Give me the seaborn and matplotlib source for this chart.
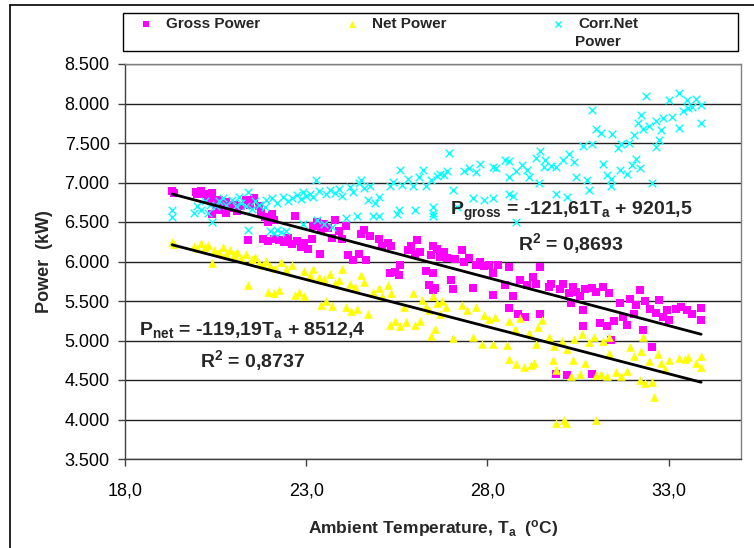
import pandas as pd
import seaborn as sns
import matplotlib.pyplot as plt
import numpy as np
from matplotlib.ticker import FuncFormatter, MultipleLocator
from matplotlib.lines import Line2D
from matplotlib.patches import Rectangle


sns.set_theme(style="white")
plt.rcParams['font.family'] = ['Liberation Sans', 'DejaVu Sans']
plt.rcParams['mathtext.fontset'] = 'custom'
plt.rcParams['mathtext.rm'] = 'Liberation Sans'
plt.rcParams['mathtext.bf'] = 'Liberation Sans:bold'
plt.rcParams['mathtext.it'] = 'Liberation Sans:italic'

x_ticks = [18, 23, 28, 33]

# Gross power
T_gross = [19.3, 19.35, 19.97, 20.0, 20.1, 20.2, 20.3, 20.4, 20.3, 20.45, 20.5, 20.6, 20.7, 20.8, 20.9,
           21.0, 21.1, 21.2, 20.4, 20.6, 20.8, 21.35, 21.45, 21.55, 21.7, 21.4, 21.75, 21.85, 21.95, 22.05,
           22.1, 21.8, 21.95, 22.1, 22.25, 22.4, 22.5, 22.6, 22.7, 22.75, 22.85, 22.95, 23.05, 23.15, 23.2,
           23.3, 23.4, 23.37, 23.5, 23.6, 23.7, 23.8, 23.9, 24.0, 24.1, 24.15, 24.3, 24.45, 24.5, 24.6,
           24.65, 24.75, 25.0, 25.1, 25.25, 25.35, 25.3, 25.45, 25.55, 25.6, 25.8, 25.9, 26.0, 26.05, 26.15,
           26.3, 26.4, 26.5, 26.5, 26.45, 26.6, 26.7, 26.5, 26.55, 26.8, 26.9, 27.0, 27.05, 27.1, 27.3,
           27.35, 27.5, 27.6, 27.7, 27.8, 27.9, 28.05, 28.15, 28.15, 28.3, 28.5, 28.6, 28.6, 28.7, 28.85,
           28.9, 29.05, 29.1, 29.25, 29.35, 29.45, 29.45, 29.7, 29.75, 29.9, 30.0, 30.1, 30.2, 30.25, 30.3,
           30.35, 30.45, 30.55, 30.65, 30.65, 30.7, 30.9, 30.9, 31.0, 31.1, 31.2, 31.3, 31.35, 31.4, 31.5,
           31.65, 31.75, 31.85, 31.95, 32.05, 32.1, 32.2, 32.3, 32.35, 32.5, 32.55, 32.65, 32.75, 32.85, 32.95,
           33.0, 33.2, 33.35, 33.5, 33.65, 33.9, 33.9]
P_gross = [6890, 6870, 6880, 6850, 6890, 6860, 6840, 6870, 6800, 6760, 6720, 6780, 6700, 6750, 6680,
           6720, 6640, 6700, 6600, 6650, 6620, 6780, 6720, 6800, 6700, 6270, 6620, 6560, 6500, 6600,
           6520, 6280, 6260, 6290, 6270, 6250, 6300, 6220, 6570, 6260, 6180, 6240, 6160, 6290, 6450,
           6500, 6400, 6100, 6480, 6420, 6300, 6520, 6380, 6290, 6450, 6080, 6020, 6100, 6350, 6400,
           6020, 6320, 6280, 6200, 6240, 6190, 5850, 5870, 5830, 5960, 6150, 6190, 6100, 6270, 6120,
           5880, 5700, 5640, 6190, 6080, 6160, 6060, 5850, 5660, 6120, 6040, 5760, 5650, 6030, 6140,
           5990, 6040, 5660, 5950, 5990, 5940, 5950, 5850, 5580, 5950, 5700, 5930, 5410, 5560, 5340,
           5760, 5300, 5700, 5800, 5720, 5930, 5340, 5680, 5720, 4580, 5650, 5720, 4560, 5600, 5470,
           5680, 5620, 5560, 5390, 5180, 5650, 5660, 4580, 5620, 5220, 5680, 5180, 5600, 5010, 5250,
           5470, 5300, 5200, 5520, 5340, 5450, 5640, 5130, 5500, 5400, 4920, 5350, 5510, 5300, 5380,
           5260, 5400, 5420, 5390, 5340, 5410, 5260]

# Net power
T_net = [19.3, 19.35, 19.9, 20.0, 20.1, 20.2, 20.3, 20.4, 20.45, 20.6, 20.7, 20.8, 20.9, 21.0, 21.1,
         21.2, 21.4, 21.35, 21.5, 21.6, 21.7, 21.8, 21.9, 22.0, 21.95, 22.1, 22.25, 22.15, 22.3, 22.45,
         22.6, 22.7, 22.8, 22.95, 22.95, 23.1, 23.2, 23.35, 23.4, 23.55, 23.7, 23.5, 23.65, 23.8, 23.9,
         24.0, 24.1, 24.25, 24.4, 24.5, 24.2, 24.35, 24.6, 24.7, 24.85, 25.0, 25.1, 25.25, 25.35, 25.3,
         25.45, 25.6, 25.7, 25.75, 25.95, 26.0, 26.15, 26.2, 26.3, 26.45, 26.5, 26.6, 26.4, 26.55, 26.7,
         26.75, 26.85, 27.05, 27.3, 27.45, 27.6, 27.7, 27.85, 27.9, 28.05, 28.2, 28.15, 28.55, 28.6, 28.6,
         28.75, 28.8, 28.9, 29.0, 29.15, 29.2, 29.3, 29.35, 29.4, 29.5, 29.7, 29.8, 29.85, 29.9, 29.9,
         30.05, 30.12, 30.17, 30.2, 30.3, 30.35, 30.4, 30.55, 30.6, 30.7, 30.8, 30.95, 31.0, 31.0, 31.15,
         31.2, 31.35, 31.35, 31.3, 31.55, 31.7, 31.85, 31.95, 32.05, 32.2, 32.25, 32.3, 32.35, 32.45, 32.55,
         32.6, 32.7, 32.8, 32.9, 33.0, 33.3, 33.45, 33.55, 33.75, 33.9, 33.9]
P_net = [6250, 6220, 6200, 6170, 6230, 6180, 6210, 5980, 6150, 6120, 6180, 6100, 6140, 6080, 6120,
         6050, 5700, 6100, 6030, 6060, 5980, 5950, 6010, 5940, 5620, 5600, 5640, 5920, 5990, 5900,
         5950, 5580, 5620, 5560, 5880, 5830, 5900, 5810, 5450, 5500, 5440, 5780, 5840, 5730, 5760,
         5910, 5430, 5370, 5400, 5830, 5710, 5680, 5740, 5340, 5620, 5660, 5560, 5700, 5600, 5200,
         5250, 5180, 5430, 5240, 5600, 5190, 5250, 5510, 5440, 5060, 5560, 5480, 5380, 5150, 5340,
         5500, 5430, 5030, 5450, 5380, 5050, 5430, 4960, 5320, 5270, 5300, 4960, 4940, 5250, 4770,
         5140, 4700, 5280, 4670, 5100, 4690, 4710, 4960, 5170, 5260, 5040, 4750, 4930, 4630, 3950,
         5000, 3990, 3950, 4890, 4550, 4750, 5020, 4580, 5080, 4710, 4980, 5050, 4560, 3990, 4580,
         5000, 5040, 4840, 4550, 4600, 4550, 4620, 4920, 4800, 4500, 4870, 5050, 4460, 4740, 4480,
         4290, 4830, 4720, 4640, 4750, 4780, 4760, 4790, 4710, 4800, 4660]

# Corrected net power
T_corr = [19.3, 19.3, 19.9, 20.0, 20.1, 20.2, 20.3, 20.4, 20.35, 20.5, 20.6, 20.7, 20.8, 20.95, 21.05,
          21.15, 21.2, 21.35, 21.4, 21.4, 21.5, 21.6, 21.7, 21.85, 21.9, 22.0, 22.1, 22.2, 22.3, 22.45,
          22.05, 22.2, 22.35, 22.5, 22.6, 22.75, 22.85, 22.9, 22.9, 23.0, 23.1, 23.2, 23.28, 23.3, 23.35,
          23.5, 23.55, 23.65, 23.7, 23.8, 23.9, 24.0, 24.1, 24.2, 24.3, 24.4, 24.45, 24.5, 24.6, 24.7,
          24.75, 24.85, 24.9, 25.0, 25.0, 25.3, 25.4, 25.5, 25.55, 25.6, 25.65, 25.8, 25.95, 26.0, 26.1,
          26.22, 26.3, 26.45, 26.5, 26.5, 26.5, 26.6, 26.7, 26.8, 26.9, 26.95, 27.05, 27.15, 27.35, 27.5,
          27.6, 27.7, 27.8, 27.9, 28.15, 28.15, 28.25, 28.5, 28.6, 28.6, 28.6, 28.7, 28.8, 28.8, 28.95,
          29.1, 29.15, 29.35, 29.45, 29.43, 29.55, 29.6, 29.75, 29.9, 29.9, 30.1, 30.2, 30.25, 30.4, 30.45,
          30.65, 30.75, 30.8, 30.9, 30.9, 31.0, 31.15, 31.2, 31.3, 31.4, 31.4, 31.45, 31.6, 31.65, 31.7,
          31.85, 31.9, 32.0, 32.05, 32.1, 32.15, 32.2, 32.25, 32.3, 32.37, 32.45, 32.55, 32.65, 32.65, 32.75,
          32.8, 32.85, 33.0, 33.1, 33.3, 33.3, 33.4, 33.5, 33.55, 33.65, 33.75, 33.9, 33.9]
P_corr = [6650, 6560, 6620, 6700, 6650, 6770, 6610, 6500, 6720, 6700, 6760, 6810, 6720, 6780, 6700,
          6820, 6740, 6700, 6880, 6400, 6660, 6760, 6720, 6690, 6780, 6380, 6360, 6400, 6370, 6380,
          6800, 6740, 6820, 6760, 6800, 6840, 6790, 6880, 6480, 6830, 6860, 6820, 7030, 6520, 6890,
          6480, 6850, 6900, 6440, 6870, 6920, 6830, 6550, 6940, 6880, 6570, 6990, 7030, 6930, 6780,
          6960, 6570, 6740, 6570, 6820, 6960, 7010, 6600, 6650, 7160, 6970, 7040, 6960, 6650, 7070,
          7160, 6960, 7030, 6610, 6690, 6570, 7080, 7110, 7090, 7150, 7370, 6900, 6690, 7140, 7180,
          6800, 7130, 7240, 6780, 7200, 6800, 7180, 7290, 7270, 7070, 6860, 6830, 7140, 6500, 7220,
          7160, 7070, 7310, 7400, 6990, 7200, 7290, 7210, 7200, 6860, 7290, 6820, 7360, 7260, 7070,
          7460, 7030, 6900, 7490, 7920, 7680, 7630, 7240, 7100, 7040, 6950, 7620, 7440, 7160, 7490,
          7110, 7500, 7220, 7600, 7300, 7750, 7180, 7850, 7680, 8090, 7710, 6990, 7780, 7450, 7540,
          7670, 7820, 8040, 7830, 8130, 7690, 7900, 8040, 7940, 7960, 8060, 7980, 7750]

# linear fits as printed on the chart
fit_gross = (-121.61, 9201.5)
fit_net = (-119.19, 8512.4)

gross = pd.DataFrame({"T": T_gross, "P": P_gross})
net = pd.DataFrame({"T": T_net, "P": P_net})
corr = pd.DataFrame({"T": T_corr, "P": P_corr})

W, H = 754, 548
fig = plt.figure(figsize=(W / 100, H / 100), dpi=100)
ax = fig.add_axes([125 / W, 1 - 459 / H, 616 / W, 395 / H])

sns.scatterplot(data=gross, x="T", y="P", ax=ax, marker="s", color="#FF00FF",
                s=30, linewidth=0, label="Gross Power")
sns.scatterplot(data=net, x="T", y="P", ax=ax, marker="^", color="#FFFF00",
                s=38, linewidth=0, label="Net Power")
sns.scatterplot(data=corr, x="T", y="P", ax=ax, marker="x", color="#00FFFF",
                s=30, linewidth=1.0, label="Corr.Net")

for (a, b), df in [(fit_gross, gross), (fit_net, net)]:
    xs = np.array([df["T"].min(), df["T"].max()])
    ax.plot(xs, a * xs + b, color="black", lw=2)

ax.set_xlim(18, 35)
ax.set_ylim(3500, 8500)
ax.set_xticks(x_ticks)
ax.yaxis.set_major_locator(MultipleLocator(500))
ax.xaxis.set_major_formatter(FuncFormatter(lambda v, p: f"{v:.1f}".replace(".", ",")))
ax.yaxis.set_major_formatter(FuncFormatter(lambda v, p: f"{v:,.0f}".replace(",", ".")))
ax.grid(axis="y", color="#202020", lw=1)
ax.grid(axis="x", visible=False)
for sp in ax.spines.values():
    sp.set_color("#808080")
    sp.set_linewidth(1)
ax.spines["left"].set_color("#404040")
ax.spines["bottom"].set_color("#404040")
ax.tick_params(axis="both", direction="out", length=5, width=1, color="#404040",
               labelsize=13, left=True, bottom=True, labelcolor="black")
ax.tick_params(axis="x", pad=12)
ax.tick_params(axis="y", pad=6)

ax.set_xlabel(r"Ambient Temperature, T$_\mathbf{a}$  ($^\mathbf{o}$C)", fontsize=12.5,
              fontweight="bold", labelpad=13)
ax.set_ylabel("Power  (kW)", fontsize=13, fontweight="bold", labelpad=8)

ax.text(0.724, 0.628, r"P$_\mathbf{gross}$ = -121,61T$_\mathbf{a}$ + 9201,5", transform=ax.transAxes,
        ha="center", va="center", fontsize=14, fontweight="bold")
ax.text(0.724, 0.546, r"R$^\mathbf{2}$ = 0,8693", transform=ax.transAxes,
        ha="center", va="center", fontsize=14, fontweight="bold")
ax.text(0.206, 0.327, r"P$_\mathbf{net}$ = -119,19T$_\mathbf{a}$ + 8512,4", transform=ax.transAxes,
        ha="center", va="center", fontsize=14, fontweight="bold")
ax.text(0.208, 0.249, r"R$^\mathbf{2}$ = 0,8737", transform=ax.transAxes,
        ha="center", va="center", fontsize=14, fontweight="bold")

# legend: one box, three entries placed like the original
handles, labels = ax.get_legend_handles_labels()
ax.legend_.remove()
fig.add_artist(Rectangle((123 / W, 1 - 51 / H), 615 / W, 38.3 / H, transform=fig.transFigure,
                         fill=False, edgecolor="black", lw=1))
for h, lab, mx in zip(handles, labels, [145, 351, 557]):
    fig.legend([h], [lab], loc="upper left", bbox_to_anchor=((mx - 8.5) / W, 1 - 17 / H),
               frameon=False, prop={"weight": "bold", "size": 11}, borderpad=0,
               borderaxespad=0, handlelength=1.2, handletextpad=0.75, markerscale=0.8)
# second line of the third legend label
fig.text(575.5 / W, 1 - 42.5 / H, "Power", ha="left", va="center", fontsize=11, fontweight="bold")

fig.add_artist(Line2D([10 / W, 10 / W], [0, 1 - 5 / H], color="black", lw=1.2))
fig.add_artist(Line2D([10 / W, 1], [1 - 5 / H, 1 - 5 / H], color="black", lw=1.2))

plt.savefig("out.png", dpi=100)
